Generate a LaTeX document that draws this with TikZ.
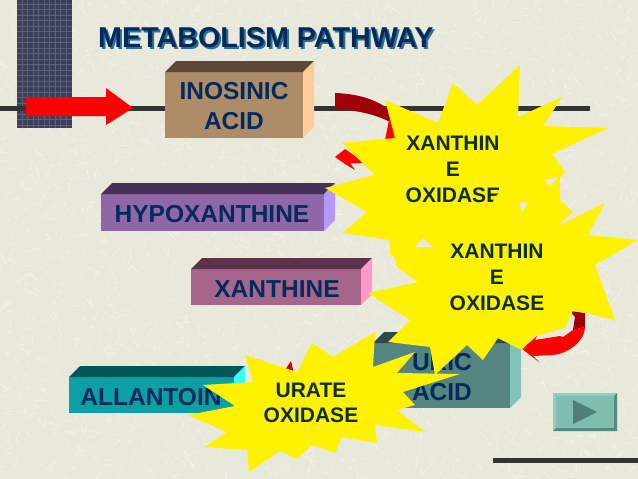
\documentclass[tikz,border=0pt]{standalone}
\usepackage{fontspec}
\setmainfont{Liberation Sans}
\definecolor{bgc}{HTML}{E8E8DB}
\definecolor{fleck}{HTML}{F2F2EA}
\definecolor{navy}{HTML}{002B5C}
\definecolor{stxt}{HTML}{0C2F2C}
\definecolor{ink}{HTML}{333333}
\definecolor{grida}{HTML}{3A3F5C}
\definecolor{gridb}{HTML}{5C607A}
\definecolor{redd}{HTML}{A00008}
\definecolor{tshadow}{HTML}{2F6F94}
\definecolor{inoF}{HTML}{AE8C67}\definecolor{inoT}{HTML}{5C4838}\definecolor{inoS}{HTML}{FFCC99}
\definecolor{hypF}{HTML}{8F66A8}\definecolor{hypT}{HTML}{46305A}\definecolor{hypS}{HTML}{B399FF}
\definecolor{xanF}{HTML}{A6668C}\definecolor{xanT}{HTML}{5B3349}\definecolor{xanS}{HTML}{FF99CC}
\definecolor{uriF}{HTML}{558580}\definecolor{uriT}{HTML}{2E4A48}\definecolor{uriS}{HTML}{80C4BC}
\definecolor{allF}{HTML}{0C9FA3}\definecolor{allT}{HTML}{005757}\definecolor{allS}{HTML}{33FFFF}
\definecolor{btnF}{HTML}{7FBDB0}\definecolor{btnL}{HTML}{8FCFC2}\definecolor{btnD}{HTML}{558A80}\definecolor{btnA}{HTML}{4F7F78}
\tikzset{
 x=1pt,y=-1pt,
 boxlabel/.style={inner sep=0pt,align=center,text=navy,font=\fontsize{24.5}{30}\selectfont\bfseries},
 starlabel/.style={inner sep=0pt,align=center,text=stxt,font=\fontsize{21}{26}\selectfont\bfseries},
 urlabel/.style={inner sep=0pt,align=center,text=stxt,font=\fontsize{21}{25}\selectfont\bfseries},
 titlelabel/.style={inner sep=0pt,anchor=west,font=\fontsize{28.7}{32}\selectfont\bfseries},
 starfill/.style={fill=yellow},
 rail/.style={draw=ink,line width=5pt},
 hole/.style={fill=bgc}
}
% brick: left, top of front, right of front, bottom of front, colour stem
\newcommand{\brick}[5]{%
 \fill[#5F] (#1,#2) rectangle (#3,#4);
 \fill[#5T] (#1,#2) -- (#1+11,#2-11) -- (#3+11,#2-11) -- (#3,#2) -- cycle;
 \fill[#5S] (#3,#2) -- (#3+11,#2-11) -- (#3+11,#4-11) -- (#3,#4) -- cycle;
}
\begin{document}
\begin{tikzpicture}
\useasboundingbox (0,0) rectangle (638,479);
\fill[bgc] (0,0) rectangle (638,479);
% speckled background
\pgfmathsetseed{4242}
\begin{scope}
\clip (0,0) rectangle (638,479);
\foreach \i in {1,...,2200}{
  \pgfmathsetmacro{\px}{rnd*638}
  \pgfmathsetmacro{\py}{rnd*479}
  \pgfmathsetmacro{\pa}{rnd*360}
  \pgfmathsetmacro{\pl}{3+rnd*7}
  \draw[fleck,line width=.8pt] (\px,\py) -- ++(\pa:\pl);
}
\end{scope}
% grid panel
\fill[grida] (17,0) rectangle (72,128);
\foreach \gx in {22,27.5,...,70}{\draw[gridb,line width=.4pt] (\gx,0) -- (\gx,128);}
\foreach \gy in {4,9.5,...,126}{\draw[gridb,line width=.4pt] (17,\gy) -- (72,\gy);}
% rails
\coordinate (railA) at (0,108); \coordinate (railB) at (590,108);
\coordinate (railC) at (493,460); \coordinate (railD) at (638,460);
\draw[rail] (railA) -- (railB);
\draw[rail] (railC) -- (railD);
% red block arrow
\fill[red] (26,97) -- (106,97) -- (106,88) -- (133,108) -- (106,125) -- (106,116) -- (26,116) -- cycle;
% title
\node[titlelabel,text=tshadow] (titleshadow) at (100,40) {METABOLISM PATHWAY};
\node[titlelabel,text=navy] (title) at (98,38) {METABOLISM PATHWAY};
% first curved arrow
\fill[redd] (335,93) .. controls (360,94) and (378,100) .. (392,112) -- (396,125) -- (390,122) .. controls (375,114) and (355,110) .. (335,109) -- cycle;
\fill[red] (389,120) -- (397,125) -- (398,140) -- (385,140) -- cycle;
\fill[red] (335,157) -- (345,149) -- (365,163) -- (350,163) -- (355,170) -- (345,164) -- cycle;
% second curved arrow
\fill[redd] (570,311) -- (585,313) -- (585,327) -- (573,330) -- (575,317) -- cycle;
\fill[red] (573,330) -- (585,327) .. controls (585,340) and (570,353) .. (553,355) -- (533,356) -- (539,362) -- (522,349) -- (537,336) -- (535,340) -- (560,336) -- (563,337) -- cycle;
% third arrow
\fill[red!85!black] (285,370) -- (291,361) -- (294,374) -- cycle;
% boxes
\brick{165}{72}{303}{138}{ino}
\node[boxlabel] (inosinic) at (234,106) {INOSINIC\\ACID};
\brick{101}{194}{324}{231}{hyp}
\node[boxlabel] (hypox) at (212,214) {HYPOXANTHINE};
\brick{191}{269}{361}{305}{xan}
\node[boxlabel] (xanthine) at (277,289) {XANTHINE};
\brick{373}{343}{510}{408}{uri}
\node[boxlabel] (uric) at (442,377) {URIC\\ACID};
\brick{69}{377}{234}{413}{all}
\node[boxlabel] (allantoin) at (151,397) {ALLANTOIN};
% star one
\fill[starfill] (520,65) -- (518,117) -- (562,97) -- (543,126) -- (608,128) -- (552,154) -- (565,172) -- (560,177) -- (560,200) -- (573,212) -- (540,240) -- (430,260) -- (390,255) -- (390,240) -- (343,233) -- (367,212) -- (325,188) -- (375,175) -- (342,143) -- (395,138) -- (385,100) -- (438,123) -- (453,83) -- (477,105) -- cycle;
\node[starlabel] (enzymeA) at (453,169) {XANTHIN\\E\\OXIDASE};
% star two
\fill[starfill] (388,237) -- (433,248) -- (490,208) -- (495,197) -- (499,193) -- (508,200) -- (519,212) -- (560,225) -- (605,203) -- (588,235) -- (638,240) -- (595,265) -- (615,320) -- (573,310) -- (565,328) -- (533,337) -- (522,350) -- (498,338) -- (483,360) -- (467,345) -- (435,375) -- (430,347) -- (388,342) -- (410,320) -- (368,293) -- (418,282) -- (397,267) -- cycle;
\fill[hole] (415,247) -- (423,238) -- (433,247) -- cycle;
\fill[hole] (545,180) -- (558,177) -- (550,186) -- cycle;
\fill[hole] (519,202) -- (528,203) -- (522,212) -- cycle;
\node[starlabel] (enzymeB) at (497,277) {XANTHIN\\E\\OXIDASE};
% star three
\fill[starfill] (245,355) -- (297,372) -- (312,343) -- (333,357) -- (375,332) -- (373,367) -- (415,352) -- (397,373) -- (460,374) -- (403,392) -- (415,405) -- (397,410) -- (425,432) -- (375,425) -- (377,443) -- (342,437) -- (335,453) -- (312,445) -- (297,459) -- (280,451) -- (249,472) -- (247,450) -- (205,447) -- (227,432) -- (188,415) -- (235,406) -- (203,385) -- (253,382) -- cycle;
\node[urlabel] (enzymeC) at (311,403) {URATE\\OXIDASE};
% navigation button
\fill[btnF] (553,393) rectangle (617,431);
\fill[btnL] (553,393) -- (617,393) -- (614,396) -- (556,396) -- (556,428) -- (553,431) -- cycle;
\fill[btnD] (617,393) -- (617,431) -- (553,431) -- (556,428) -- (614,428) -- (614,396) -- cycle;
\fill[btnA] (573,400) -- (597,412) -- (573,424) -- cycle;
\end{tikzpicture}
\end{document}
